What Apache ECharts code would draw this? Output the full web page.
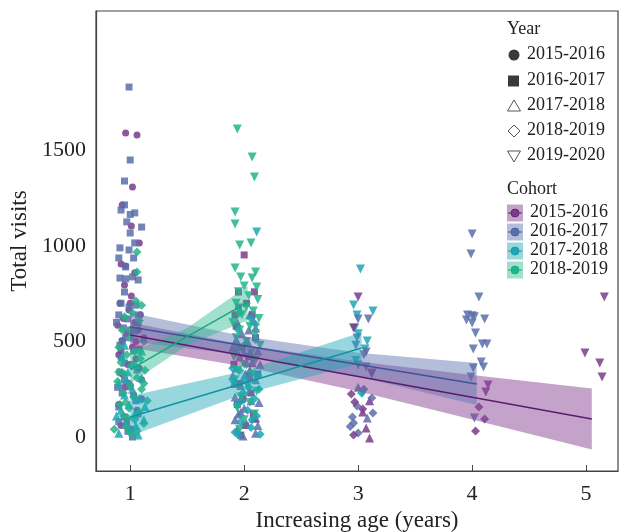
<!DOCTYPE html>
<html>
<head>
<meta charset="utf-8">
<script src="https://cdn.jsdelivr.net/npm/echarts@6/dist/echarts.min.js"></script>
<style>
html,body{margin:0;padding:0;background:#fff;}
#main{width:619px;height:532px;}
</style>
</head>
<body>
<div id="main"></div>
<script>
// tick labels
var xTicks=[1,2,3,4,5];
var yTicks=[0,500,1000,1500];
var yearNames=['2015-2016','2016-2017','2017-2018','2018-2019','2019-2020'];
var cohortNames=['2015-2016','2016-2017','2017-2018','2018-2019'];

// points [age (jittered), total visits], grouped by colour (cohort) and shape (year)
var pCircle=[[0.96,1592],[1.06,1581],[1.02,1309],[0.93,1215],[1.01,1105],[1.08,1016],[0.92,905],[0.96,895],[1.04,860],[0.95,796],[1.01,738],[0.91,700],[0.99,665],[1.09,640],[0.94,620],[1.04,600],[0.89,585],[1.07,560],[0.97,540],[1.12,520],[0.93,505],[1.02,470],[0.9,430],[1.05,410],[0.98,380],[0.93,330],[1.1,300],[0.95,260],[1.03,220],[0.9,170],[1.06,140],[0.97,90],[1.01,40],[1.0,700],[1.05,500],[0.92,450],[1.08,360],[0.99,280],[0.92,60],[1.1,200]];
var bSquare=[[0.99,1832],[1.0,1450],[0.95,1340],[0.95,1215],[0.92,1188],[1.04,1173],[1.0,1165],[0.97,1126],[1.0,1068],[1.1,1099],[1.04,1016],[0.91,990],[0.99,979],[0.9,937],[1.03,937],[0.96,890],[0.91,832],[0.96,828],[1.07,822],[1.02,838],[0.95,759],[0.9,639],[0.98,618],[1.07,639],[1.07,597],[0.94,571],[0.92,700],[0.99,680],[1.05,690],[0.96,520],[0.91,480],[1.03,450],[0.95,387],[0.91,340],[0.95,298],[1.0,262],[0.9,157],[0.95,105],[1.02,0],[0.93,230],[1.06,350],[0.88,600],[1.0,560],[0.97,60],[1.05,190],[0.92,420],[1.01,380],[0.89,260],[1.07,120],[0.98,30],[0.93,500],[1.08,460],[0.9,80],[1.95,681]];
var pSquare=[[2.0,953],[1.95,759],[2.02,700],[2.07,640],[1.93,580],[2.1,520],[1.98,470],[2.04,420],[1.91,380],[2.12,330],[1.96,280],[2.06,230],[1.94,170],[2.08,120],[2.01,60],[1.97,10],[2.09,760],[1.92,640],[2.05,310],[1.99,200]];
var tTriUp=[[0.93,420],[1.05,380],[0.98,340],[1.1,310],[0.9,280],[1.02,250],[0.95,220],[1.08,200],[0.99,170],[0.92,140],[1.04,120],[1.12,90],[0.96,70],[1.0,40],[0.9,20],[1.07,10],[1.03,560],[0.95,480],[1.1,450],[0.97,300],[1.05,60],[0.88,110],[1.13,160]];
var bTriUp=[[2.05,640],[1.94,600],[2.1,570],[1.98,540],[2.03,500],[1.9,470],[2.12,450],[1.96,420],[2.07,390],[1.93,360],[2.01,330],[2.1,300],[1.97,270],[2.05,240],[1.92,210],[2.13,180],[2.0,150],[1.95,120],[2.08,100],[2.02,70],[1.94,40],[2.1,20],[1.99,5],[2.04,560],[1.91,280],[2.08,610],[1.93,510],[2.0,440],[2.14,380],[1.9,320],[2.06,190],[1.97,130],[2.12,60],[1.92,90],[3.08,100],[3.0,260]];
var pTriUp=[[2.05,350],[1.97,200],[2.1,100],[3.1,-5],[3.07,47],[3.04,131],[3.1,190]];
var gDiamond=[[1.06,969],[1.06,864],[1.05,712],[1.1,690],[1.02,650],[0.95,630],[1.08,610],[0.93,560],[1.0,520],[1.12,500],[0.9,470],[1.04,450],[0.97,430],[1.09,410],[0.92,390],[1.01,370],[1.13,350],[0.95,330],[1.06,310],[0.89,290],[1.0,270],[1.1,250],[0.94,230],[1.03,210],[1.15,190],[0.91,170],[0.99,150],[1.08,130],[0.94,110],[1.04,90],[1.12,70],[0.97,50],[0.86,40],[1.06,30],[1.01,15],[1.08,450],[0.96,180],[1.0,560],[0.9,340],[1.12,280],[0.98,100]];
var tDiamond=[[2.06,620],[1.95,560],[2.1,510],[2.0,480],[1.93,440],[2.08,410],[2.02,380],[1.96,350],[2.12,320],[1.91,290],[2.04,260],[1.99,230],[2.09,200],[1.94,170],[2.03,140],[2.11,110],[1.97,80],[2.06,50],[1.92,25],[2.14,15],[2.0,300],[1.96,650],[2.1,590],[1.94,470],[2.05,430],[1.9,360],[2.13,250],[1.98,190],[2.07,90],[1.95,10],[3.03,230]];
var bDiamond=[[2.99,162],[3.12,204],[2.95,105],[2.96,73],[3.13,126],[3.0,21],[3.05,250],[2.93,55]];
var pDiamond=[[2.94,225],[2.97,183],[3.04,147],[2.96,10],[4.06,157],[4.11,94],[4.03,31]];
var gTriDown=[[1.94,1612],[2.07,1466],[2.09,1361],[1.92,1178],[1.92,1115],[2.06,1016],[1.96,1005],[1.92,885],[2.1,864],[1.97,838],[2.07,832],[2.11,785],[2.0,790],[1.95,760],[2.04,740],[2.12,720],[1.93,700],[2.02,680],[2.08,660],[1.98,640],[2.13,620],[1.9,600],[2.05,580],[1.96,560],[2.1,540],[1.93,520],[2.02,500],[2.14,480],[1.98,460],[2.06,440],[1.91,420],[2.1,400],[2.0,380],[1.95,350],[2.07,330],[1.92,300],[2.03,270],[2.11,240],[1.97,210],[2.05,180],[1.94,150],[2.09,120],[2.0,90],[1.96,40]];
var tTriDown=[[2.11,1073],[3.02,880],[2.96,691],[2.99,639],[3.13,660],[2.97,571],[3.08,503],[3.04,230],[3.0,540],[3.06,460],[2.98,400]];
var bTriDown=[[3.0,618],[3.09,618],[2.99,518],[3.07,445],[3.0,377],[3.07,366],[3.12,330],[3.05,430],[2.98,480],[4.0,1063],[3.99,958],[4.06,733],[3.96,639],[4.0,635],[4.02,630],[4.11,618],[3.95,612],[4.0,597],[4.03,545],[4.09,487],[4.13,487],[4.01,461],[4.08,393],[4.1,366],[4.01,361],[3.99,314],[4.02,100]];
var pTriDown=[[3.0,733],[2.96,571],[3.12,335],[4.14,272],[4.12,236],[5.16,733],[4.99,440],[5.12,387],[5.14,314]];

// regression fits per cohort: x, fitted, lower and upper 95% band
var fitX1=[1,2,3,4,5.05];
var fit1=[534,425,317,208,94];
var lo1=[468,369,239,92,-66];
var hi1=[600,481,395,324,254];
var fitX2=[1,2,3,4.04];
var fit2=[576,478,379,277];
var lo2=[501,428,317,167];
var hi2=[651,528,441,387];
var fitX3=[1,2,3.03];
var fit3=[105,283,466];
var lo3=[5,225,388];
var hi3=[215,345,548];
var fitX4=[1,1.5,2.03];
var fit4=[353,525,705];
var lo4=[280,480,610];
var hi4=[440,570,790];

var FONT='Liberation Serif';
var cPurple='#7a3b8c', cBlue='#5a6eaa', cTeal='#1ca6b6', cGreen='#22b48a';
var bandCol=['rgba(140,70,150,0.5)','rgba(90,110,170,0.45)','rgba(28,166,182,0.45)','rgba(34,180,138,0.42)'];
var lineCol=['#5a1c6e','#3a5597','#12939f','#17a880'];
var pointCol=[cPurple,cBlue,cTeal,cGreen];

function pts(name,data,color,symbol,size,rot){
    return {type:'scatter',name:name,data:data,symbol:symbol,symbolSize:size,symbolRotate:rot||0,
        itemStyle:{color:color,opacity:0.85},z:2,silent:true};
}
function band(xs,lo,hi,color){
    return {type:'custom',data:xs.map(function(x,i){return [x,lo[i],hi[i]];}),encode:{x:0,y:[1,2]},z:3,silent:true,
        renderItem:function(params,api){
            if(params.dataIndex!==0)return;
            var p=[];
            for(var i=0;i<xs.length;i++)p.push(api.coord([xs[i],hi[i]]));
            for(var j=xs.length-1;j>=0;j--)p.push(api.coord([xs[j],lo[j]]));
            return {type:'polygon',shape:{points:p},style:{fill:color}};
        }};
}
function fitLine(xs,ys,color){
    return {type:'line',data:xs.map(function(x,i){return [x,ys[i]];}),showSymbol:false,symbol:'none',
        lineStyle:{color:color,width:1.5},z:4,silent:true};
}

// legend (drawn as graphic)
var graphics=[];
var gray='#3a3a3a';
graphics.push({type:'text',left:507,top:20,style:{text:'Year',font:'18px '+FONT,fill:'#222'}});
var yRows=[55,81,106,131,156];
graphics.push({type:'circle',shape:{cx:514,cy:yRows[0],r:5.5},style:{fill:gray}});
graphics.push({type:'rect',shape:{x:508,y:yRows[1]-5.5,width:11,height:11},style:{fill:gray}});
graphics.push({type:'polygon',shape:{points:[[514,yRows[2]-6],[520.5,yRows[2]+5],[507.5,yRows[2]+5]]},style:{fill:'none',stroke:'#555',lineWidth:1}});
graphics.push({type:'polygon',shape:{points:[[514,yRows[3]-6],[520,yRows[3]],[514,yRows[3]+6],[508,yRows[3]]]},style:{fill:'none',stroke:'#555',lineWidth:1}});
graphics.push({type:'polygon',shape:{points:[[507.5,yRows[4]-5],[520.5,yRows[4]-5],[514,yRows[4]+6]]},style:{fill:'none',stroke:'#555',lineWidth:1}});
yearNames.forEach(function(n,i){
    graphics.push({type:'text',left:527,top:yRows[i]-10,style:{text:n,font:'18px '+FONT,fill:'#222'}});
});
graphics.push({type:'text',left:507,top:180,style:{text:'Cohort',font:'18px '+FONT,fill:'#222'}});
var cRows=[213,232,251,270];
cohortNames.forEach(function(n,i){
    var cy=cRows[i];
    graphics.push({type:'rect',shape:{x:507,y:cy-8.5,width:16,height:17},style:{fill:bandCol[i]}});
    graphics.push({type:'line',shape:{x1:508,y1:cy,x2:522,y2:cy},style:{stroke:lineCol[i],lineWidth:1}});
    graphics.push({type:'circle',shape:{cx:515,cy:cy,r:4},style:{fill:pointCol[i],stroke:lineCol[i],lineWidth:0.8}});
    graphics.push({type:'text',left:530,top:cy-10,style:{text:n,font:'18px '+FONT,fill:'#222'}});
});

var option={
    backgroundColor:'#fff',
    animation:false,
    textStyle:{fontFamily:FONT},
    grid:{left:96,right:1,top:11,bottom:61,show:true,borderColor:'#444',borderWidth:1.2,
        containLabel:false,outerBoundsMode:'none'},
    xAxis:{type:'value',min:0.7,max:5.28,
        name:'Increasing age (years)',nameLocation:'middle',nameGap:36,
        nameTextStyle:{fontFamily:FONT,fontSize:23,color:'#222'},
        axisLine:{show:true,onZero:false,lineStyle:{color:'#444',width:1.2}},
        axisTick:{show:true,inside:true,length:6,customValues:xTicks,lineStyle:{color:'#444'}},
        axisLabel:{customValues:xTicks,fontFamily:FONT,fontSize:22,color:'#222',margin:12},
        splitLine:{show:false}},
    yAxis:{type:'value',min:-178,max:2230,
        name:'Total visits',nameLocation:'middle',nameGap:64,
        nameTextStyle:{fontFamily:FONT,fontSize:23,color:'#222'},
        axisLine:{show:true,onZero:false,lineStyle:{color:'#444',width:1.2}},
        axisTick:{show:false},
        axisLabel:{customValues:yTicks,fontFamily:FONT,fontSize:22,color:'#222',margin:10,
            formatter:function(v){return String(v);}},
        splitLine:{show:false}},
    graphic:graphics,
    series:[
        pts('pCircle',pCircle,cPurple,'circle',7),
        pts('bSquare',bSquare,cBlue,'rect',7),
        pts('pSquare',pSquare,cPurple,'rect',7),
        pts('tTriUp',tTriUp,cTeal,'triangle',9),
        pts('bTriUp',bTriUp,cBlue,'triangle',9),
        pts('pTriUp',pTriUp,cPurple,'triangle',9),
        pts('gDiamond',gDiamond,cGreen,'diamond',9),
        pts('tDiamond',tDiamond,cTeal,'diamond',9),
        pts('bDiamond',bDiamond,cBlue,'diamond',9),
        pts('pDiamond',pDiamond,cPurple,'diamond',9),
        pts('gTriDown',gTriDown,cGreen,'triangle',9,180),
        pts('tTriDown',tTriDown,cTeal,'triangle',9,180),
        pts('bTriDown',bTriDown,cBlue,'triangle',9,180),
        pts('pTriDown',pTriDown,cPurple,'triangle',9,180),
        band(fitX1,lo1,hi1,bandCol[0]),
        band(fitX2,lo2,hi2,bandCol[1]),
        band(fitX3,lo3,hi3,bandCol[2]),
        band(fitX4,lo4,hi4,bandCol[3]),
        fitLine(fitX1,fit1,lineCol[0]),
        fitLine(fitX2,fit2,lineCol[1]),
        fitLine(fitX3,fit3,lineCol[2]),
        fitLine(fitX4,fit4,lineCol[3])
    ]
};
echarts.init(document.getElementById('main')).setOption(option);
</script>
</body>
</html>
